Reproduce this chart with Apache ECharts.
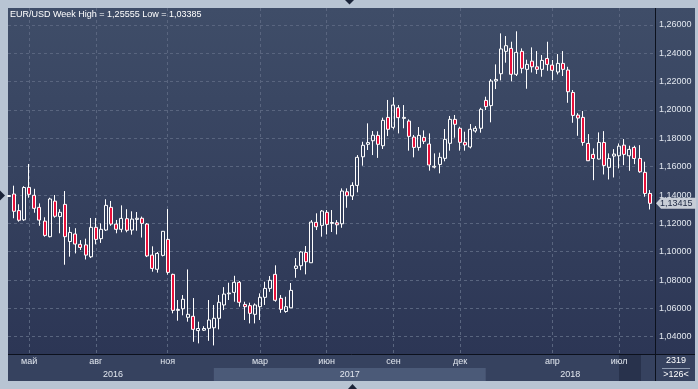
<!DOCTYPE html>
<html><head><meta charset="utf-8">
<script src="https://cdn.jsdelivr.net/npm/echarts@6/dist/echarts.min.js"></script>
<style>html,body{margin:0;padding:0;background:#b8c4d3;overflow:hidden}#c{width:698px;height:389px}</style>
</head><body><div id="c"></div>
<script>
const weeks = [
'2016-04-04','2016-04-11','2016-04-18','2016-04-25','2016-05-02','2016-05-09','2016-05-16','2016-05-23','2016-05-30',
'2016-06-06','2016-06-13','2016-06-20','2016-06-27','2016-07-04','2016-07-11','2016-07-18','2016-07-25',
'2016-08-01','2016-08-08','2016-08-15','2016-08-22','2016-08-29','2016-09-05','2016-09-12','2016-09-19','2016-09-26',
'2016-10-03','2016-10-10','2016-10-17','2016-10-24','2016-10-31','2016-11-07','2016-11-14','2016-11-21','2016-11-28',
'2016-12-05','2016-12-12','2016-12-19','2016-12-24','2016-12-26',
'2017-01-02','2017-01-09','2017-01-16','2017-01-23','2017-01-30','2017-02-06','2017-02-13','2017-02-20','2017-02-27',
'2017-03-06','2017-03-13','2017-03-20','2017-03-27','2017-04-03','2017-04-10','2017-04-17','2017-04-24',
'2017-05-01','2017-05-08','2017-05-15','2017-05-22','2017-05-29','2017-06-05','2017-06-12','2017-06-19','2017-06-26',
'2017-07-03','2017-07-10','2017-07-17','2017-07-24','2017-07-31','2017-08-07','2017-08-14','2017-08-21','2017-08-28',
'2017-09-04','2017-09-11','2017-09-18','2017-09-25','2017-10-02','2017-10-09','2017-10-16','2017-10-23','2017-10-30',
'2017-11-06','2017-11-13','2017-11-20','2017-11-27','2017-12-04','2017-12-11','2017-12-18','2017-12-23','2017-12-25',
'2018-01-01','2018-01-08','2018-01-15','2018-01-22','2018-01-29','2018-02-05','2018-02-12','2018-02-19','2018-02-26',
'2018-03-05','2018-03-12','2018-03-19','2018-03-26','2018-04-02','2018-04-09','2018-04-16','2018-04-23','2018-04-30',
'2018-05-07','2018-05-14','2018-05-21','2018-05-28','2018-06-04','2018-06-11','2018-06-18','2018-06-25',
'2018-07-02','2018-07-09','2018-07-16','2018-07-23','2018-07-30','2018-08-06','2018-08-13'
];
const opens = [
1.1390,1.1407,1.1290,1.1225,1.1454,1.1398,1.1313,1.1216,1.1106,
1.1357,1.1248,1.1334,1.1072,1.1125,1.1052,1.1048,1.0964,
1.1172,1.1092,1.1153,1.1313,1.1195,1.1158,1.1233,1.1153,1.1228,
1.1236,1.1195,1.0976,1.0876,1.0974,1.1087,1.0840,1.0586,1.0597,
1.0537,1.0544,1.0443,1.0446,1.0459,
1.0463,1.0530,1.0624,1.0703,1.0713,1.0784,1.0628,1.0619,1.0558,
1.0612,1.0678,1.0741,1.0840,1.0671,1.0578,1.0604,1.0882,
1.0901,1.0995,1.0922,1.1207,1.1186,1.1278,1.1200,1.1204,1.1197,
1.1423,1.1393,1.1468,1.1670,1.1758,1.1783,1.1821,1.1748,1.1948,
1.1878,1.2016,1.1941,1.1922,1.1809,1.1736,1.1807,1.1760,1.1597,
1.1616,1.1659,1.1765,1.1934,1.1871,1.1772,1.1739,1.1852,1.1871,
1.2068,1.2031,1.2205,1.2256,1.2414,1.2435,1.2252,1.2414,1.2287,
1.2345,1.2305,1.2287,1.2364,1.2317,1.2268,1.2329,1.2282,1.2124,
1.1964,1.1948,1.1764,1.1687,1.1654,1.1771,1.1595,1.1675,
1.1677,1.1752,1.1677,1.1736,1.1658,1.1560,1.1411
];
const closes = [
1.1396,1.1285,1.1222,1.1453,1.1405,1.1306,1.1223,1.1115,1.1372,
1.1250,1.1278,1.1106,1.1136,1.1054,1.1030,1.0976,1.1172,
1.1087,1.1158,1.1327,1.1195,1.1158,1.1235,1.1151,1.1230,1.1236,
1.1200,1.0970,1.0882,1.0988,1.1144,1.0854,1.0586,1.0592,1.0664,
1.0558,1.0452,1.0458,1.0458,1.0518,
1.0530,1.0643,1.0701,1.0708,1.0784,1.0643,1.0612,1.0565,1.0624,
1.0678,1.0741,1.0798,1.0657,1.0593,1.0612,1.0727,1.0899,
1.0998,1.0929,1.1209,1.1176,1.1287,1.1193,1.1206,1.1190,1.1428,
1.1395,1.1468,1.1666,1.1751,1.1770,1.1822,1.1758,1.1927,1.1864,
1.2035,1.1946,1.1948,1.1814,1.1736,1.1821,1.1779,1.1612,1.1603,
1.1666,1.1793,1.1934,1.1899,1.1772,1.1753,1.1864,1.1871,1.2005,
1.2024,1.2205,1.2216,1.2431,1.2454,1.2252,1.2407,1.2294,1.2322,
1.2305,1.2287,1.2350,1.2322,1.2280,1.2329,1.2287,1.2129,1.1962,
1.1943,1.1771,1.1642,1.1658,1.1771,1.1609,1.1658,1.1689,
1.1745,1.1687,1.1722,1.1658,1.1564,1.1411,1.13415
];
const lows = [
1.1386,1.1236,1.1212,1.1218,1.1381,1.1275,1.1183,1.1106,1.1101,
1.1240,1.1130,1.0908,1.0965,1.0988,1.1012,1.0945,1.0955,
1.1052,1.1062,1.1146,1.1183,1.1130,1.1137,1.1137,1.1120,1.1148,
1.1100,1.0962,1.0859,1.0852,1.0967,1.0838,1.0565,1.0513,1.0551,
1.0506,1.0364,1.0353,1.0440,1.0371,
1.03385,1.0452,1.0588,1.0659,1.0647,1.0612,1.0518,1.0494,1.0494,
1.0518,1.0624,1.0717,1.0647,1.0569,1.0569,1.0604,1.0816,
1.0870,1.0840,1.0922,1.1153,1.1106,1.1122,1.1139,1.1122,1.1169,
1.1310,1.1365,1.1419,1.1607,1.1718,1.1682,1.1662,1.1725,1.1816,
1.1864,1.1835,1.1871,1.1713,1.1666,1.1713,1.1760,1.1572,1.1588,
1.1553,1.1638,1.1713,1.1805,1.1713,1.1713,1.1729,1.1840,1.1840,
1.2000,1.1913,1.2148,1.2209,1.2334,1.2202,1.2240,1.2259,1.2150,
1.2265,1.2254,1.2235,1.2277,1.2211,1.2251,1.2240,1.2051,1.1910,
1.1818,1.1748,1.1640,1.1505,1.1652,1.1545,1.1510,1.1524,
1.1588,1.1611,1.1571,1.1618,1.1557,1.1388,1.1298
];
const highs = [
1.1400,1.1466,1.1335,1.1462,1.1619,1.1444,1.1341,1.1243,1.1381,
1.1400,1.1300,1.1428,1.1175,1.1166,1.1082,1.1092,1.1238,
1.1238,1.1200,1.1370,1.1358,1.1224,1.1327,1.1300,1.1285,1.1280,
1.1248,1.1202,1.1038,1.0998,1.1146,1.1301,1.0845,1.0659,1.0694,
1.0875,1.0673,1.0506,1.0474,1.0659,
1.0624,1.0694,1.0750,1.0781,1.0830,1.0793,1.0647,1.0640,1.0635,
1.0706,1.0788,1.0828,1.0904,1.0694,1.0682,1.0779,1.0955,
1.1005,1.1040,1.1223,1.1271,1.1294,1.1294,1.1294,1.1223,1.1447,
1.1447,1.1490,1.1682,1.1776,1.1906,1.1852,1.1850,1.1946,1.2071,
1.2090,1.2035,1.2035,1.1934,1.1824,1.1880,1.1856,1.1835,1.1694,
1.1699,1.1866,1.1958,1.1965,1.1882,1.1847,1.1901,1.1887,1.2016,
1.2094,1.2219,1.2322,1.2541,1.2522,1.2482,1.25555,1.2435,1.2355,
1.2442,1.2416,1.2388,1.2482,1.2353,1.2395,1.2416,1.2305,1.2141,
1.1978,1.1993,1.1830,1.1729,1.1842,1.1851,1.1694,1.1724,
1.1764,1.1795,1.1748,1.1748,1.1752,1.1635,1.1435
];
const priceTicks = [1.04,1.06,1.08,1.10,1.12,1.14,1.16,1.18,1.20,1.22,1.24,1.26];
const monthTickDates = ['2016-05-02','2016-08-01','2016-11-07','2017-03-06','2017-06-05','2017-09-04','2017-12-04','2018-04-02','2018-07-02'];
const monthTickLabels = ['май','авг','ноя','мар','июн','сен','дек','апр','июл'];
const yearLabels = ['2016','2017','2018'];
const barCountText = '2319';
const visibleBarsText = '>126<';

const FONT = '"Liberation Sans", Arial, sans-serif';
const fmt = v => v.toFixed(5).replace('.', ',');
const monthIdx = monthTickDates.map(d => weeks.indexOf(d));
const candles = weeks.map((w, i) => [i, opens[i], closes[i], lows[i], highs[i]]);
const hi = Math.max.apply(null, highs), lo = Math.min.apply(null, lows);

const chart = echarts.init(document.getElementById('c'), null, {renderer: 'canvas'});
const gridLine = {color: '#59657f', type: [3, 3], width: 1};
chart.setOption({
  animation: false,
  backgroundColor: '#b8c4d3',
  grid: {left: 8, right: 43, top: 8, bottom: 35, containLabel: false, outerBoundsMode: 'none'},
  xAxis: {
    type: 'value', min: -0.12, max: 126.0,
    axisLine: {show: false},
    axisTick: {show: false, customValues: monthIdx},
    axisLabel: {customValues: monthIdx, formatter: v => monthTickLabels[monthIdx.indexOf(v)] || '',
      color: '#e2e7ef', fontSize: 9, fontFamily: FONT, margin: 3},
    splitLine: {show: true, lineStyle: gridLine}
  },
  yAxis: {
    type: 'value', position: 'right', min: 1.0278, max: 1.2720,
    axisLine: {show: false},
    axisTick: {show: false, customValues: priceTicks},
    axisLabel: {customValues: priceTicks, formatter: v => fmt(v), color: '#e2e7ef', fontSize: 9, fontFamily: FONT, margin: 4},
    splitLine: {show: true, lineStyle: gridLine}
  },
  series: [{
    type: 'candlestick',
    data: candles,
    encode: {x: 0, y: [1, 2, 3, 4]},
    barWidth: 3.5,
    clip: true,
    z: 5,
    itemStyle: {color: 'rgba(0,0,0,0)', color0: '#e8103a', borderColor: '#ffffff', borderColor0: '#ffffff', borderWidth: 1},
    emphasis: {disabled: true}
  }]
});

const px = i => chart.convertToPixel({xAxisIndex: 0}, i);
const py = v => chart.convertToPixel({yAxisIndex: 0}, v);
const y2017 = weeks.findIndex(w => w.startsWith('2017'));
const y2018 = weeks.findIndex(w => w.startsWith('2018'));
const b1 = px(y2017), b2 = px(y2018);
const lastY = py(closes[closes.length - 1]);
const firstY = py(closes[0]);
const grad = {type: 'linear', x: 0, y: 0, x2: 0, y2: 1, colorStops: [{offset: 0, color: '#3f4d68'}, {offset: 1, color: '#2c3655'}]};
const txt = (x, y, s, o) => Object.assign({type: 'text', x: x, y: y, z: 100,
  style: Object.assign({text: s, fill: '#e2e7ef', font: '9px ' + FONT, textAlign: 'center', textVerticalAlign: 'middle'}, o || {})});

chart.setOption({graphic: {elements: [
  {type: 'rect', z: -20, shape: {x: 8, y: 8, width: 647, height: 346}, style: {fill: grad}},
  {type: 'rect', z: -20, shape: {x: 655, y: 8, width: 40, height: 346}, style: {fill: grad}},
  {type: 'rect', z: -20, shape: {x: 8, y: 354, width: 687, height: 27}, style: {fill: '#36425f'}},
  {type: 'rect', z: -19, shape: {x: b1, y: 368, width: b2 - b1, height: 13}, style: {fill: '#4b5a78'}},
  {type: 'rect', z: -19, shape: {x: 619, y: 355, width: 22, height: 26}, style: {fill: '#28324c'}},
  {type: 'line', z: 90, shape: {x1: 655.5, y1: 8, x2: 655.5, y2: 381}, style: {stroke: '#0c111d', lineWidth: 1}},
  {type: 'line', z: 90, shape: {x1: 8, y1: 354.5, x2: 695, y2: 354.5}, style: {stroke: '#0c111d', lineWidth: 1}},
  {type: 'line', z: 90, shape: {x1: 662, y1: 368.5, x2: 690, y2: 368.5}, style: {stroke: '#8e9ab0', lineWidth: 1}},
  txt(10, 15, 'EUR/USD Week High = ' + fmt(hi) + ' Low = ' + fmt(lo), {textAlign: 'left', fill: '#ffffff'}),
  txt((8 + b1) / 2 + 2, 374.5, yearLabels[0]),
  txt((b1 + b2) / 2, 374.5, yearLabels[1]),
  txt((b2 + 655) / 2, 374.5, yearLabels[2]),
  txt(676, 361, barCountText, {fill: '#ffffff'}),
  txt(676, 375, visibleBarsText, {fill: '#ffffff'}),
  {type: 'polygon', z: 95, shape: {points: [[656, lastY], [661, lastY - 5.5], [696, lastY - 5.5], [696, lastY + 5.5], [661, lastY + 5.5]]}, style: {fill: '#c8cdd6'}},
  txt(660, lastY, fmt(closes[closes.length - 1]), {textAlign: 'left', fill: '#1c2640'}),
  {type: 'polygon', z: 95, shape: {points: [[345, 0], [354, 0], [349.5, 4.5]]}, style: {fill: '#1b2439'}},
  {type: 'polygon', z: 95, shape: {points: [[348, 389], [357, 389], [352.5, 384]]}, style: {fill: '#1b2439'}},
  {type: 'polygon', z: 95, shape: {points: [[0, firstY - 5], [0, firstY + 5], [5, firstY]]}, style: {fill: '#1b2439'}}
]}});
</script></body></html>
